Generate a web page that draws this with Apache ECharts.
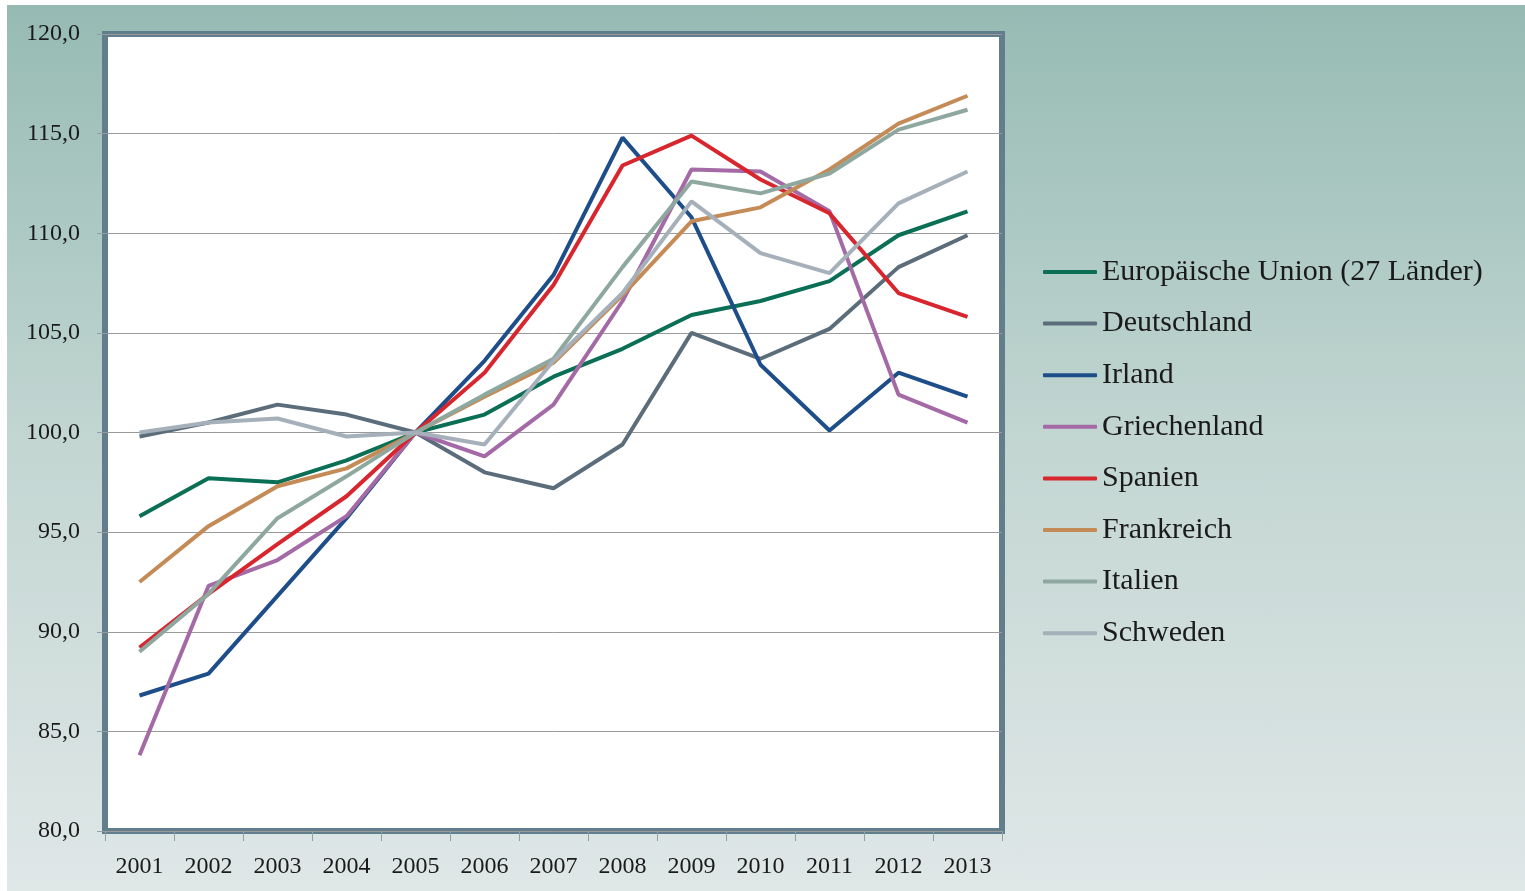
<!DOCTYPE html>
<html>
<head>
<meta charset="utf-8">
<title>Index 2001-2013</title>
<script src="https://cdn.jsdelivr.net/npm/echarts@6/dist/echarts.min.js"></script>
<style>
  html, body { margin: 0; padding: 0; background: #fff; }
  #chart {
    width: 1525px; height: 891px;
    background: linear-gradient(#96bbb3, #c3d6d2 50%, #dfe7e7) no-repeat 7px 5px / 1518px 886px, #fff;
  }
</style>
</head>
<body>
<div id="chart"></div>
<script>
// years on the x axis
const years = ['2001', '2002', '2003', '2004', '2005', '2006', '2007', '2008', '2009', '2010', '2011', '2012', '2013']

// values (2005 = 100)
const eu27 =         [95.8, 97.7, 97.5, 98.6, 100, 100.9, 102.8, 104.2, 105.9, 106.6, 107.6, 109.9, 111.1]
const deutschland =  [99.8, 100.5, 101.4, 100.9, 100, 98.0, 97.2, 99.4, 105.0, 103.7, 105.2, 108.3, 109.9]
const irland =       [86.8, 87.9, 91.8, 95.7, 100, 103.6, 107.9, 114.8, 110.8, 103.4, 100.1, 103.0, 101.8]
const griechenland = [83.8, 92.3, 93.6, 95.8, 100, 98.8, 101.4, 106.6, 113.2, 113.1, 111.1, 101.9, 100.5]
const spanien =      [89.2, 91.9, 94.4, 96.8, 100, 103.0, 107.4, 113.4, 114.9, 112.7, 111.0, 107.0, 105.8]
const frankreich =   [92.5, 95.3, 97.3, 98.2, 100, 101.8, 103.5, 106.9, 110.6, 111.3, 113.2, 115.5, 116.9]
const italien =      [89.0, 91.9, 95.7, 97.8, 100, 101.9, 103.7, 108.3, 112.6, 112.0, 113.0, 115.2, 116.2]
const schweden =     [100.0, 100.5, 100.7, 99.8, 100, 99.4, 103.6, 107.0, 111.6, 109.0, 108.0, 111.5, 113.1]

const names = ['Europäische Union (27 Länder)', 'Deutschland', 'Irland', 'Griechenland', 'Spanien', 'Frankreich', 'Italien', 'Schweden']
const colors = ['#0b6f56', '#5b6d7b', '#1d4e89', '#a46aa6', '#d8262f', '#c58b57', '#8ea89f', '#a5b0ba']
const values = [eu27, deutschland, irland, griechenland, spanien, frankreich, italien, schweden]

const font = '"Liberation Serif", "DejaVu Serif", serif'

var chart = echarts.init(document.getElementById('chart'))

var option = {
    backgroundColor: 'transparent',
    animation: false,
    color: colors,
    textStyle: {fontFamily: font, color: '#1a1a1a'},
    grid: {
        left: 105, top: 34, right: 523, bottom: 60,
        show: true,
        backgroundColor: '#ffffff',
        borderColor: '#627d8b',
        borderWidth: 6
    },
    legend: {
        orient: 'vertical',
        left: 1038,
        top: 252,
        icon: 'roundRect',
        itemWidth: 54,
        itemHeight: 4,
        itemGap: 21.6,
        textStyle: {fontFamily: font, fontSize: 30, color: '#1a1a1a', lineHeight: 30},
        data: names
    },
    xAxis: {
        type: 'category',
        data: years,
        boundaryGap: true,
        axisLine: {show: false},
        axisTick: {show: true, length: 10, interval: 0, lineStyle: {color: '#8fa0a6'}},
        axisLabel: {fontFamily: font, fontSize: 24, color: '#1a1a1a', margin: 24, interval: 0}
    },
    yAxis: {
        type: 'value',
        min: 80,
        max: 120,
        interval: 5,
        axisLine: {show: false},
        axisTick: {show: true, length: 8, lineStyle: {color: '#8fa0a6'}},
        axisLabel: {
            fontFamily: font, fontSize: 24, color: '#1a1a1a', margin: 25,
            formatter: (v) => v.toFixed(1).replace('.', ',')
        },
        splitLine: {lineStyle: {color: '#9a9a9a', width: 1}}
    },
    series: names.map((n, i) => ({
        name: n,
        type: 'line',
        data: values[i],
        symbol: 'none',
        lineStyle: {width: 4, color: colors[i]},
        itemStyle: {color: colors[i]}
    }))
}

option && chart.setOption(option)
</script>
</body>
</html>
